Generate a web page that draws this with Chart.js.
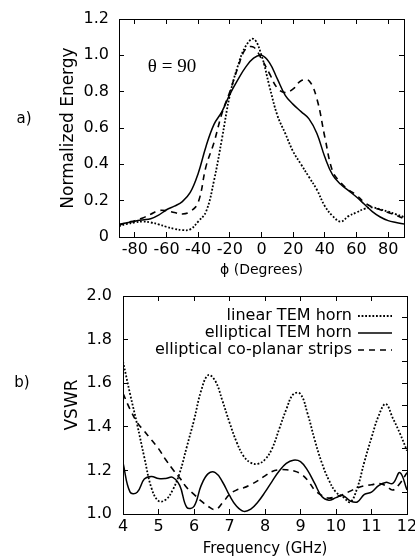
<!DOCTYPE html>
<html>
<head>
<meta charset="utf-8">
<script src="https://cdn.jsdelivr.net/npm/chart.js@4.4.1/dist/chart.umd.min.js"></script>
<style>
  body { margin: 0; background: #fff; }
  .panel { position: absolute; left: 0; width: 415px; height: 280px; }
</style>
</head>
<body>
<div class="panel" style="top:0"><canvas id="grafica1" width="415" height="280"></canvas></div>
<div class="panel" style="top:280px"><canvas id="grafica2" width="415" height="280"></canvas></div>
<script>
// a) normalized energy vs phi (theta = 90)
const phi = [-90, -85, -80, -75, -70, -65, -60, -55, -50, -45, -40, -35, -30, -25, -20, -15, -10, -5, 0,
  5, 10, 15, 20, 25, 30, 35, 40, 45, 50, 55, 60, 65, 70, 75, 80, 85, 90];
const linearTemA = [0.06, 0.072, 0.08, 0.085, 0.08, 0.07, 0.056, 0.045, 0.038, 0.042, 0.085, 0.14, 0.31, 0.54, 0.78, 0.94, 1.05, 1.09, 1.0,
  0.83, 0.67, 0.57, 0.47, 0.40, 0.33, 0.26, 0.17, 0.115, 0.085, 0.115, 0.135, 0.155, 0.163, 0.152, 0.14, 0.125, 0.11];
const ellipticalTemA = [0.07, 0.078, 0.087, 0.094, 0.10, 0.12, 0.15, 0.17, 0.195, 0.245, 0.35, 0.50, 0.62, 0.69, 0.785, 0.865, 0.935, 0.985, 1.0,
  0.96, 0.87, 0.78, 0.73, 0.69, 0.65, 0.57, 0.44, 0.34, 0.29, 0.255, 0.22, 0.18, 0.14, 0.11, 0.09, 0.08, 0.072];
const coplanarA = [0.065, 0.08, 0.09, 0.105, 0.125, 0.145, 0.145, 0.135, 0.127, 0.14, 0.19, 0.39, 0.52, 0.68, 0.80, 0.93, 1.035, 1.045, 0.98,
  0.90, 0.82, 0.795, 0.815, 0.86, 0.86, 0.76, 0.55, 0.36, 0.30, 0.26, 0.23, 0.19, 0.165, 0.15, 0.135, 0.12, 0.10];
const phiTicks = [-80, -60, -40, -20, 0, 20, 40, 60, 80];
const energyTicks = [0, 0.2, 0.4, 0.6, 0.8, 1.0, 1.2];

// b) VSWR vs frequency
const freq = [4.0, 4.2, 4.4, 4.6, 4.8, 5.0, 5.2, 5.4, 5.6, 5.8, 6.0, 6.2, 6.4, 6.6, 6.8, 7.0, 7.2, 7.4, 7.6, 7.8, 8.0,
  8.2, 8.4, 8.6, 8.8, 9.0, 9.2, 9.4, 9.6, 9.8, 10.0, 10.2, 10.4, 10.6, 10.8, 11.0, 11.2, 11.4, 11.6, 11.8, 12.0];
const linearTemB = [1.70, 1.55, 1.41, 1.26, 1.12, 1.06, 1.065, 1.11, 1.19, 1.31, 1.43, 1.565, 1.637, 1.61, 1.52, 1.42, 1.33, 1.265, 1.235, 1.23, 1.25,
  1.30, 1.39, 1.48, 1.55, 1.55, 1.46, 1.34, 1.235, 1.155, 1.10, 1.078, 1.055, 1.12, 1.24, 1.35, 1.45, 1.505, 1.44, 1.37, 1.29];
const ellipticalTemB = [1.235, 1.10, 1.10, 1.16, 1.172, 1.163, 1.163, 1.168, 1.13, 1.03, 1.035, 1.13, 1.185, 1.19, 1.148, 1.085, 1.035, 1.012, 1.022, 1.055, 1.10,
  1.15, 1.197, 1.232, 1.247, 1.24, 1.20, 1.14, 1.08, 1.063, 1.075, 1.084, 1.06, 1.055, 1.09, 1.10, 1.13, 1.145, 1.14, 1.19, 1.11];
const coplanarB = [1.553, 1.48, 1.42, 1.38, 1.34, 1.30, 1.25, 1.205, 1.165, 1.12, 1.09, 1.06, 1.035, 1.02, 1.05, 1.09, 1.11, 1.12, 1.135, 1.153, 1.175,
  1.195, 1.203, 1.203, 1.198, 1.185, 1.155, 1.11, 1.085, 1.073, 1.08, 1.09, 1.105, 1.12, 1.13, 1.134, 1.14, 1.13, 1.11, 1.14, 1.19];
const freqTicks = [4, 5, 6, 7, 8, 9, 10, 11, 12];
const vswrTicks = [1.0, 1.1, 1.2, 1.3, 1.4, 1.5, 1.6, 1.7, 1.8, 1.9, 2.0];

const seriesNames = ["linear TEM horn", "elliptical TEM horn", "elliptical co-planar strips"];

const SANS = "'DejaVu Sans', sans-serif";
Chart.defaults.color = "#000";
Chart.defaults.font.family = SANS;

// line styles: dotted, solid, dashed
const styles = [
  { borderDash: [1.8, 1.8], width: 1.8 },
  { borderDash: [], width: 1.5 },
  { borderDash: [6, 5], width: 1.6 },
];

function pairs(xs, ys) {
  return xs.map((x, i) => ({ x: x, y: ys[i] }));
}

function makeDataset(i, xs, ys) {
  return {
    label: seriesNames[i],
    data: pairs(xs, ys),
    borderColor: "#000",
    borderWidth: styles[i].width,
    borderDash: styles[i].borderDash,
    pointRadius: 0,
    tension: 0.4,
    fill: false,
  };
}

// fixed axis sizes so the plot box lands where the figure has it
function fixSize(prop, size) {
  return function (scale) {
    scale[prop] = size;
    scale.paddingLeft = 0;
    scale.paddingRight = 0;
    scale.paddingTop = 0;
    scale.paddingBottom = 0;
  };
}

function setTicks(values) {
  return function (scale) {
    scale.ticks = values.map((v) => ({ value: v }));
  };
}

const innerGrid = { drawOnChartArea: false, tickLength: -5, color: "#000", lineWidth: 1 };
const frame = { color: "#000", width: 1 };

function axis(position, min, max, ticks, size, extra) {
  const horizontal = position === "top" || position === "bottom";
  const a = {
    type: "linear",
    position: position,
    min: min,
    max: max,
    afterBuildTicks: setTicks(ticks),
    afterFit: fixSize(horizontal ? "height" : "width", size),
    grid: innerGrid,
    border: frame,
    ticks: { display: false },
  };
  return Object.assign(a, extra || {});
}

// free text: panel letters, theta note, key
const textos = {
  id: "textos",
  afterDraw(chart, args, opts) {
    const ctx = chart.ctx;
    ctx.save();
    ctx.fillStyle = "#000";
    ctx.textBaseline = "middle";
    (opts.labels || []).forEach((t) => {
      ctx.font = t.font;
      ctx.textAlign = "center";
      ctx.fillText(t.text, t.x, t.y);
    });
    if (opts.key) {
      const right = chart.chartArea.right;
      const top = chart.chartArea.top;
      ctx.font = "16px " + SANS;
      ctx.textAlign = "right";
      chart.data.datasets.forEach((ds, i) => {
        const y = top + 20 + i * 17;
        ctx.fillText(ds.label, right - 55, y);
        ctx.beginPath();
        ctx.setLineDash(ds.borderDash);
        ctx.lineWidth = ds.borderWidth;
        ctx.strokeStyle = ds.borderColor;
        ctx.moveTo(right - 49, y);
        ctx.lineTo(right - 15, y);
        ctx.stroke();
      });
    }
    ctx.restore();
  },
};

new Chart(document.getElementById("grafica1"), {
  type: "line",
  data: {
    datasets: [
      makeDataset(0, phi, linearTemA),
      makeDataset(1, phi, ellipticalTemA),
      makeDataset(2, phi, coplanarA),
    ],
  },
  options: {
    responsive: false,
    animation: false,
    layout: { padding: { left: 0, top: 19, right: 11, bottom: 0 } },
    scales: {
      x: axis("bottom", -90, 90, phiTicks, 43, {
        ticks: { autoSkip: false, maxRotation: 0, padding: 8, font: { size: 16 }, callback: (v) => String(v) },
        title: { display: true, text: "ϕ (Degrees)", font: { size: 14 }, padding: { top: 0, bottom: 1 } },
      }),
      x2: axis("top", -90, 90, phiTicks, 0),
      y: axis("left", 0, 1.2, energyTicks, 119, {
        ticks: { padding: 15, font: { size: 16 }, callback: (v) => (v === 0 ? "0" : v.toFixed(1)) },
        title: { display: true, text: "Normalized Energy", font: { size: 17 }, padding: { top: 58, bottom: 0 } },
      }),
      y2: axis("right", 0, 1.2, energyTicks, 0),
    },
    plugins: {
      legend: { display: false },
      tooltip: { enabled: false },
      textos: {
        labels: [
          { text: "a)", x: 24, y: 119, font: "15px " + SANS },
          { text: "θ = 90", x: 172, y: 67, font: "19px 'Liberation Serif', serif" },
        ],
      },
    },
  },
  plugins: [textos],
});

new Chart(document.getElementById("grafica2"), {
  type: "line",
  data: {
    datasets: [
      makeDataset(0, freq, linearTemB),
      makeDataset(1, freq, ellipticalTemB),
      makeDataset(2, freq, coplanarB),
    ],
  },
  options: {
    responsive: false,
    animation: false,
    layout: { padding: { left: 0, top: 16, right: 8, bottom: 0 } },
    scales: {
      x: axis("bottom", 4, 12, freqTicks, 46, {
        ticks: { autoSkip: false, maxRotation: 0, padding: 8, font: { size: 16 }, callback: (v) => String(v) },
        title: { display: true, text: "Frequency (GHz)", font: { size: 15 }, padding: { top: 0, bottom: 2 } },
      }),
      x2: axis("top", 4, 12, freqTicks, 0),
      y: axis("left", 1, 2, vswrTicks, 123, {
        ticks: {
          padding: 16,
          font: { size: 16 },
          callback: (v) => (Math.round(v * 10) % 2 === 0 ? v.toFixed(1) : ""),
        },
        title: { display: true, text: "VSWR", font: { size: 17 }, padding: { top: 62, bottom: 0 } },
      }),
      y2: axis("right", 1, 2, vswrTicks, 0),
    },
    plugins: {
      legend: { display: false },
      tooltip: { enabled: false },
      textos: {
        key: true,
        labels: [{ text: "b)", x: 22, y: 103, font: "15px " + SANS }],
      },
    },
  },
  plugins: [textos],
});
</script>
</body>
</html>
